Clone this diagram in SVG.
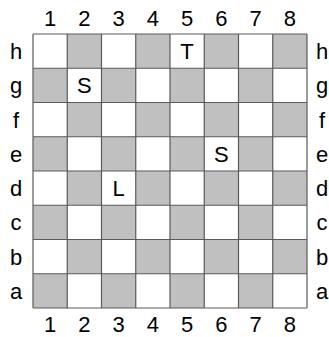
<svg xmlns="http://www.w3.org/2000/svg" width="329" height="337" viewBox="0 0 329 337">
<style>
.w{fill:#ffffff}
.d{fill:#c0c0c0}
.grid{stroke:#5a5a5a;stroke-width:1.2;fill:none}
text{font-family:"Liberation Sans",Arial,sans-serif;font-size:22px;fill:#000;text-anchor:middle}
</style>
<rect width="329" height="337" fill="#ffffff"/>
<g id="board">
<rect x="33" y="34" width="274" height="274" class="w"/>
<g class="d">
<rect x="67.25" y="34" width="34.25" height="34.25"/>
<rect x="135.75" y="34" width="34.25" height="34.25"/>
<rect x="204.25" y="34" width="34.25" height="34.25"/>
<rect x="272.75" y="34" width="34.25" height="34.25"/>
<rect x="33" y="68.25" width="34.25" height="34.25"/>
<rect x="101.5" y="68.25" width="34.25" height="34.25"/>
<rect x="170" y="68.25" width="34.25" height="34.25"/>
<rect x="238.5" y="68.25" width="34.25" height="34.25"/>
<rect x="67.25" y="102.5" width="34.25" height="34.25"/>
<rect x="135.75" y="102.5" width="34.25" height="34.25"/>
<rect x="204.25" y="102.5" width="34.25" height="34.25"/>
<rect x="272.75" y="102.5" width="34.25" height="34.25"/>
<rect x="33" y="136.75" width="34.25" height="34.25"/>
<rect x="101.5" y="136.75" width="34.25" height="34.25"/>
<rect x="170" y="136.75" width="34.25" height="34.25"/>
<rect x="238.5" y="136.75" width="34.25" height="34.25"/>
<rect x="67.25" y="171" width="34.25" height="34.25"/>
<rect x="135.75" y="171" width="34.25" height="34.25"/>
<rect x="204.25" y="171" width="34.25" height="34.25"/>
<rect x="272.75" y="171" width="34.25" height="34.25"/>
<rect x="33" y="205.25" width="34.25" height="34.25"/>
<rect x="101.5" y="205.25" width="34.25" height="34.25"/>
<rect x="170" y="205.25" width="34.25" height="34.25"/>
<rect x="238.5" y="205.25" width="34.25" height="34.25"/>
<rect x="67.25" y="239.5" width="34.25" height="34.25"/>
<rect x="135.75" y="239.5" width="34.25" height="34.25"/>
<rect x="204.25" y="239.5" width="34.25" height="34.25"/>
<rect x="272.75" y="239.5" width="34.25" height="34.25"/>
<rect x="33" y="273.75" width="34.25" height="34.25"/>
<rect x="101.5" y="273.75" width="34.25" height="34.25"/>
<rect x="170" y="273.75" width="34.25" height="34.25"/>
<rect x="238.5" y="273.75" width="34.25" height="34.25"/>
</g>
<path class="grid" d="M33 34V308M67.25 34V308M101.5 34V308M135.75 34V308M170 34V308M204.25 34V308M238.5 34V308M272.75 34V308M307 34V308M33 34H307M33 68.25H307M33 102.5H307M33 136.75H307M33 171H307M33 205.25H307M33 239.5H307M33 273.75H307M33 308H307"/>
</g>
<g id="pieces">
<text x="187.1" y="59">T</text>
<text x="84.4" y="93.3">S</text>
<text x="221.4" y="161.8">S</text>
<text x="118.6" y="196">L</text>
</g>
<g id="col-labels">
<text x="50.1" y="26">1</text><text x="84.4" y="26">2</text><text x="118.6" y="26">3</text><text x="152.9" y="26">4</text><text x="187.1" y="26">5</text><text x="221.4" y="26">6</text><text x="255.6" y="26">7</text><text x="289.9" y="26">8</text>
<text x="50.1" y="332">1</text><text x="84.4" y="332">2</text><text x="118.6" y="332">3</text><text x="152.9" y="332">4</text><text x="187.1" y="332">5</text><text x="221.4" y="332">6</text><text x="255.6" y="332">7</text><text x="289.9" y="332">8</text>
</g>
<g id="row-labels">
<text x="16" y="59">h</text><text x="16" y="93.3">g</text><text x="16" y="127.5">f</text><text x="16" y="161.8">e</text><text x="16" y="196">d</text><text x="16" y="230.3">c</text><text x="16" y="264.5">b</text><text x="16" y="298.8">a</text>
<text x="322" y="59">h</text><text x="322" y="93.3">g</text><text x="322" y="127.5">f</text><text x="322" y="161.8">e</text><text x="322" y="196">d</text><text x="322" y="230.3">c</text><text x="322" y="264.5">b</text><text x="322" y="298.8">a</text>
</g>
</svg>
